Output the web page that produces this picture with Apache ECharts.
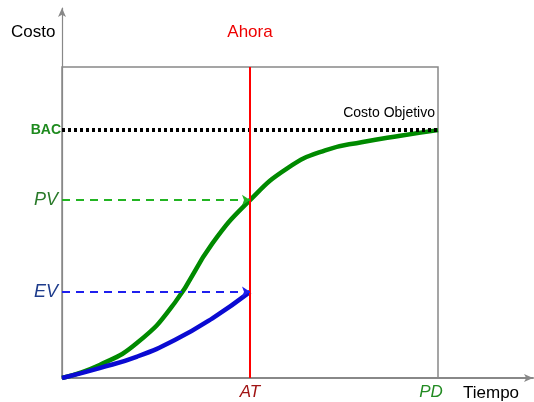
<!DOCTYPE html>
<html>
<head>
<meta charset="utf-8">
<script src="https://cdn.jsdelivr.net/npm/echarts@6/dist/echarts.min.js"></script>
<style>
  html, body { margin: 0; padding: 0; background: #fff; }
  #chart { width: 534px; height: 402px; }
</style>
</head>
<body>
<div id="chart"></div>
<script>
  // planned value curve (green S-curve), time 0..100, cost 0..100
  const plannedTime = [0, 10, 20, 30, 40, 50, 60, 70, 80, 90, 100];
  const plannedCost = [0, 4.2, 11.3, 24.2, 43.3, 57.2, 67.5, 73.2, 75.9, 77.9, 79.7];
  // earned value curve (blue), only up to "now"
  const earnedTime = [0, 10, 20, 30, 40, 50];
  const earnedCost = [0, 3.2, 6.9, 12.2, 19.2, 27.7];

  const levelNames = ['BAC', 'PV', 'EV'];
  const levelValues = [79.7, 57.2, 27.7];
  const nowTime = 50;   // AT
  const endTime = 100;  // PD
  const timeLabels = { 50: 'AT', 100: 'PD' };

  const chart = echarts.init(document.getElementById('chart'));
  const font = 'Liberation Sans, Arial, sans-serif';

  const toPairs = (xs, ys) => xs.map((x, i) => [x, ys[i]]);

  const option = {
    animation: false,
    grid: [
      { left: 62, top: 67, width: 376, height: 311, show: true, borderColor: '#888', borderWidth: 1.5, backgroundColor: 'transparent' },
      { left: 62, top: 8, right: 1, bottom: 24 }
    ],
    xAxis: [
      {
        gridIndex: 0, type: 'value', min: 0, max: endTime, interval: 50,
        axisLine: { show: false }, axisTick: { show: false }, splitLine: { show: false },
        axisLabel: {
          margin: 6,
          showMaxLabel: true,
          formatter: v => timeLabels[v] ? '{' + timeLabels[v] + '|' + timeLabels[v] + '}' : '',
          rich: {
            AT: { fontFamily: font, fontSize: 17, fontStyle: 'italic', color: '#a01414' },
            PD: { fontFamily: font, fontSize: 17, fontStyle: 'italic', color: '#228b22', padding: [0, 14, 0, 0] }
          }
        }
      },
      {
        gridIndex: 1, type: 'value', min: 0, max: 1,
        axisLine: { show: true, symbol: ['none', 'arrow'], symbolSize: [6, 9], lineStyle: { color: '#888', width: 2 } },
        axisTick: { show: false }, axisLabel: { show: false }, splitLine: { show: false }
      }
    ],
    yAxis: [
      {
        gridIndex: 0, type: 'value', min: 0, max: 100,
        axisLine: { show: false }, axisTick: { show: false }, splitLine: { show: false },
        axisLabel: { show: false }
      },
      {
        gridIndex: 1, type: 'value', min: 0, max: 1,
        axisLine: { show: true, symbol: ['none', 'arrow'], symbolSize: [6, 9], lineStyle: { color: '#888', width: 1.2 } },
        axisTick: { show: false }, axisLabel: { show: false }, splitLine: { show: false }
      }
    ],
    graphic: [
      { type: 'text', left: 11, top: 24, style: { text: 'Costo', font: '17px ' + font, fill: '#000' } },
      { type: 'text', left: 463, top: 385, style: { text: 'Tiempo', font: '17px ' + font, fill: '#000' } }
    ],
    series: [
      {
        name: 'Planeado',
        type: 'line',
        xAxisIndex: 0, yAxisIndex: 0,
        data: toPairs(plannedTime, plannedCost),
        smooth: 0.5,
        symbol: 'none',
        lineStyle: { color: '#008a00', width: 4.5 },
        z: 3,
        markLine: {
          silent: true,
          symbol: ['none', 'none'],
          data: [
            [
              { coord: [0, levelValues[0]], lineStyle: { color: '#000', width: 4, type: [3, 3] },
                label: { show: true, position: 'insideEndTop', distance: [3, 10], formatter: 'Costo Objetivo',
                         fontFamily: font, fontSize: 14, color: '#000' } },
              { coord: [endTime, levelValues[0]] }
            ],
            [
              { coord: [0, levelValues[0]], lineStyle: { color: 'rgba(0,0,0,0)', width: 1 },
                label: { show: true, position: 'start', distance: 1, formatter: levelNames[0],
                         fontFamily: font, fontSize: 14, fontWeight: 'bold', color: '#1e8a1e' } },
              { coord: [endTime, levelValues[0]] }
            ],
            { xAxis: nowTime, lineStyle: { color: '#ff0000', width: 2, type: 'solid' },
              label: { show: true, position: 'end', distance: 26, formatter: 'Ahora',
                       fontFamily: font, fontSize: 17, color: '#ee0000' } }
          ]
        }
      },
      {
        name: 'Ganado',
        type: 'line',
        xAxisIndex: 0, yAxisIndex: 0,
        data: toPairs(earnedTime, earnedCost),
        smooth: 0.5,
        symbol: 'none',
        lineStyle: { color: '#0a0ad2', width: 4.5 },
        z: 3,
        markLine: {
          silent: true,
          symbol: ['none', 'arrow'],
          symbolSize: 8,
          data: [
            [
              { coord: [0, levelValues[1]], lineStyle: { color: '#22b422', width: 2, type: [8, 6] },
                label: { show: true, position: 'start', distance: 4, formatter: levelNames[1],
                         fontFamily: font, fontSize: 18, fontStyle: 'italic', color: '#2a7a2a' } },
              { coord: [nowTime, levelValues[1]] }
            ],
            [
              { coord: [0, levelValues[2]], lineStyle: { color: '#1f1fee', width: 2, type: [8, 6] },
                label: { show: true, position: 'start', distance: 4, formatter: levelNames[2],
                         fontFamily: font, fontSize: 18, fontStyle: 'italic', color: '#1e3c8c' } },
              { coord: [nowTime, levelValues[2]] }
            ]
          ]
        }
      }
    ]
  };

  chart.setOption(option);
  window.addEventListener('resize', () => { chart.resize(); });
</script>
</body>
</html>
